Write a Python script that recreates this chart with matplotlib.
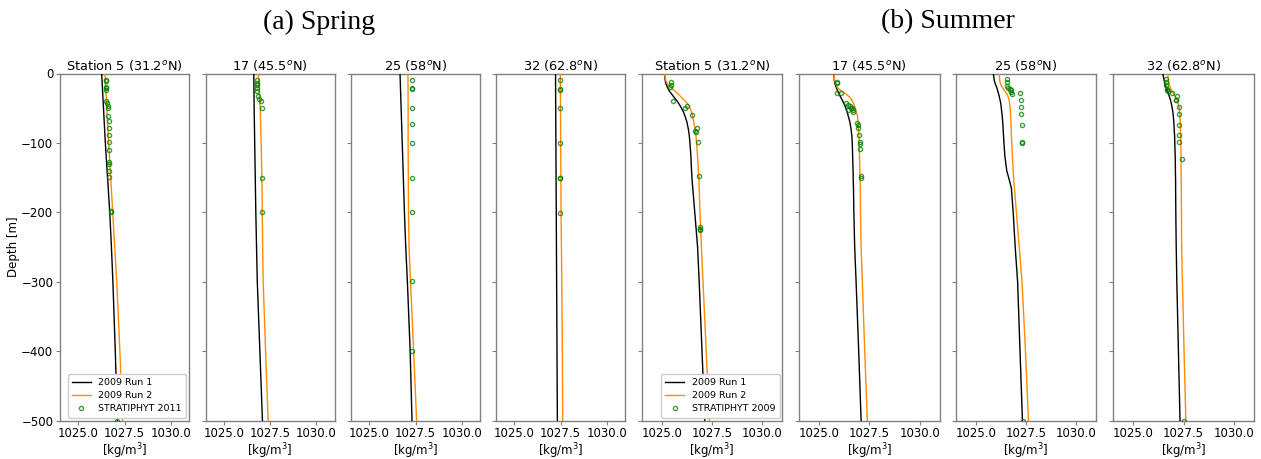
import matplotlib
matplotlib.use("Agg")
import matplotlib.pyplot as plt

# ---------------- labels ----------------
station_titles = ["Station 5 (31.2$^o$N)", "17 (45.5$^o$N)", "25 (58$^o$N)", "32 (62.8$^o$N)"]
season_titles = ["(a) Spring", "(b) Summer"]
run_labels = ["2009 Run 1", "2009 Run 2"]
obs_labels = ["STRATIPHYT 2011", "STRATIPHYT 2009"]
x_ticks = [1025.0, 1027.5, 1030.0]
y_ticks = [0, -100, -200, -300, -400, -500]

# ---------------- spring model profiles (density, kg/m3) ----------------
spring_depth = [0, -50, -100, -150, -200, -250, -300, -400, -500]
spring_run1 = [
    [1026.26, 1026.36, 1026.46, 1026.58, 1026.70, 1026.79, 1026.87, 1027.00, 1027.11],
    [1026.62, 1026.64, 1026.67, 1026.70, 1026.73, 1026.77, 1026.81, 1026.95, 1027.09],
    [1026.66, 1026.72, 1026.78, 1026.84, 1026.90, 1026.97, 1027.06, 1027.21, 1027.31],
    [1027.23, 1027.24, 1027.25, 1027.26, 1027.27, 1027.28, 1027.29, 1027.31, 1027.33],
]
spring_run2 = [
    [1026.44, 1026.54, 1026.64, 1026.75, 1026.86, 1026.97, 1027.08, 1027.25, 1027.40],
    [1026.87, 1026.97, 1027.02, 1027.06, 1027.08, 1027.10, 1027.13, 1027.26, 1027.40],
    [1027.09, 1027.10, 1027.10, 1027.11, 1027.12, 1027.15, 1027.23, 1027.40, 1027.56],
    [1027.49, 1027.50, 1027.51, 1027.52, 1027.53, 1027.55, 1027.57, 1027.60, 1027.62],
]

# ---------------- spring observations ----------------
spring_obs_depth = [
    [-9, -11, -19, -21, -24, -39, -43, -47, -49, -61, -69, -79, -89, -99, -110, -128, -130, -140, -149, -198, -200, -500],
    [-9, -13, -17, -21, -25, -33, -37, -39, -50, -150, -200],
    [-10, -21, -22, -50, -73, -100, -151, -200, -299, -400],
    [-10, -23, -24, -49, -100, -150, -151, -201],
]
spring_obs_rho = [
    [1026.50, 1026.50, 1026.50, 1026.50, 1026.49, 1026.50, 1026.55, 1026.62, 1026.62, 1026.62, 1026.64,
     1026.64, 1026.64, 1026.64, 1026.64, 1026.67, 1026.67, 1026.67, 1026.66, 1026.75, 1026.76, 1027.08],
    [1026.77, 1026.77, 1026.77, 1026.80, 1026.80, 1026.86, 1026.89, 1027.02, 1027.06, 1027.09, 1027.09],
    [1027.29, 1027.29, 1027.29, 1027.29, 1027.29, 1027.29, 1027.29, 1027.29, 1027.31, 1027.31],
    [1027.49, 1027.49, 1027.49, 1027.49, 1027.49, 1027.49, 1027.49, 1027.49],
]

# ---------------- summer model profiles ----------------
summer_depth = [0, -10, -15, -20, -25, -30, -35, -40, -45, -50, -55, -60, -70, -80, -90, -100,
                -120, -140, -155, -165, -200, -250, -300, -400, -500]
summer_run1 = [
    [1025.13, 1025.17, 1025.21, 1025.28, 1025.37, 1025.50, 1025.63, 1025.77, 1025.88, 1025.98, 1026.07,
     1026.14, 1026.25, 1026.32, 1026.37, 1026.40, 1026.45, 1026.48, 1026.51, 1026.54, 1026.64, 1026.78,
     1026.86, 1027.00, 1027.14],
    [1025.74, 1025.76, 1025.79, 1025.85, 1025.92, 1026.00, 1026.09, 1026.18, 1026.26, 1026.33, 1026.39,
     1026.44, 1026.53, 1026.59, 1026.63, 1026.65, 1026.67, 1026.69, 1026.70, 1026.71, 1026.73, 1026.77,
     1026.84, 1026.97, 1027.09],
    [1025.87, 1025.92, 1025.97, 1026.04, 1026.09, 1026.14, 1026.18, 1026.22, 1026.25, 1026.27, 1026.29,
     1026.31, 1026.34, 1026.36, 1026.38, 1026.40, 1026.45, 1026.54, 1026.68, 1026.77, 1026.86, 1026.96,
     1027.08, 1027.20, 1027.32],
    [1026.46, 1026.53, 1026.57, 1026.63, 1026.69, 1026.75, 1026.81, 1026.86, 1026.90, 1026.93, 1026.96,
     1026.98, 1027.01, 1027.03, 1027.05, 1027.06, 1027.08, 1027.09, 1027.10, 1027.10, 1027.11, 1027.13,
     1027.16, 1027.24, 1027.32],
]
summer_run2 = [
    [1025.13, 1025.20, 1025.28, 1025.45, 1025.64, 1025.83, 1026.00, 1026.18, 1026.31, 1026.41, 1026.47,
     1026.52, 1026.59, 1026.65, 1026.70, 1026.73, 1026.78, 1026.82, 1026.85, 1026.86, 1026.90, 1026.97,
     1027.05, 1027.21, 1027.37],
    [1025.74, 1025.78, 1025.82, 1025.90, 1026.10, 1026.36, 1026.55, 1026.66, 1026.74, 1026.80, 1026.85,
     1026.90, 1026.94, 1026.96, 1026.98, 1026.99, 1027.01, 1027.03, 1027.04, 1027.05, 1027.06, 1027.09,
     1027.15, 1027.27, 1027.40],
    [1026.17, 1026.19, 1026.23, 1026.32, 1026.44, 1026.56, 1026.63, 1026.67, 1026.69, 1026.71, 1026.72,
     1026.73, 1026.75, 1026.76, 1026.77, 1026.79, 1026.82, 1026.86, 1026.89, 1026.92, 1027.02, 1027.16,
     1027.30, 1027.47, 1027.62],
    [1026.71, 1026.74, 1026.78, 1026.84, 1026.91, 1027.01, 1027.12, 1027.19, 1027.25, 1027.28, 1027.30,
     1027.32, 1027.33, 1027.34, 1027.35, 1027.36, 1027.37, 1027.37, 1027.38, 1027.38, 1027.39, 1027.40,
     1027.44, 1027.52, 1027.61],
]

# ---------------- summer observations ----------------
summer_obs_depth = [
    [-12, -16.5, -19.5, -40, -47, -50, -60, -79, -83, -85, -99, -148, -221, -224, -226],
    [-12, -14, -28, -28, -42, -45, -47, -50, -52, -55, -52, -50, -72, -74, -78, -89, -98, -101, -109, -147, -150],
    [-8, -12, -18, -21, -22, -24, -26, -29, -28, -38.5, -48, -58, -74, -99, -100, -500],
    [-8, -12, -17, -22, -25, -24, -28, -33, -37.5, -38, -48, -58, -74, -89, -99, -123, -500],
]
summer_obs_rho = [
    [1025.44, 1025.44, 1025.43, 1025.58, 1026.24, 1026.17, 1026.49, 1026.74, 1026.66, 1026.70, 1026.82,
     1026.87, 1026.90, 1026.91, 1026.90],
    [1025.88, 1025.88, 1025.91, 1026.08, 1026.34, 1026.46, 1026.54, 1026.62, 1026.68, 1026.70, 1026.46,
     1026.58, 1026.87, 1026.96, 1026.93, 1027.00, 1027.04, 1027.04, 1027.04, 1027.07, 1027.07],
    [1026.57, 1026.57, 1026.54, 1026.62, 1026.71, 1026.74, 1026.77, 1026.80, 1027.20, 1027.24, 1027.27,
     1027.27, 1027.30, 1027.30, 1027.30, 1027.34],
    [1026.63, 1026.63, 1026.63, 1026.68, 1026.72, 1026.65, 1026.92, 1027.16, 1027.12, 1027.14, 1027.26,
     1027.27, 1027.29, 1027.29, 1027.29, 1027.44, 1027.51],
]

# ---------------- figure ----------------
W, H = 1261, 459
fig = plt.figure(figsize=(W / 100, H / 100), dpi=100)

spine_col = "#808080"
tick_fs = 8.5
axes_top_px, axes_bot_px = 73.5, 420.5
spring_left_px = [60, 205.5, 351, 496]
summer_left_px = [641.7, 799, 955.7, 1113.3]
spring_width_px = 129
summer_width_px = 140.7


def make_axes(left_px, width_px):
    return fig.add_axes([left_px / W, 1 - axes_bot_px / H, width_px / W,
                         (axes_bot_px - axes_top_px) / H])


def draw_panel(ax, title, depth, run1, run2, obs_d, obs_r, show_y, legend_obs=None):
    ax.plot(run1, depth, color="black", lw=1.0, label=run_labels[0], zorder=3)
    ax.plot(run2, depth, color="darkorange", lw=1.0, label=run_labels[1], zorder=3)
    ax.plot(obs_r, obs_d, linestyle="none", marker="o", ms=3.0, mew=1.0,
            mfc="none", mec="green", alpha=0.75, label=legend_obs or "", zorder=4)
    ax.set_xlim(1024, 1031)
    ax.set_ylim(-500, 0)
    ax.set_xticks(x_ticks)
    ax.set_xticklabels([f"{v:.1f}" for v in x_ticks])
    ax.set_yticks(y_ticks)
    if show_y:
        ax.set_yticklabels([str(v).replace("-", "\u2212") for v in y_ticks])
        ax.set_ylabel("Depth [m]", fontsize=tick_fs, labelpad=1)
    else:
        ax.set_yticklabels([])
    ax.set_xlabel("[kg/m$^3$]", fontsize=tick_fs, labelpad=1.2)
    ax.set_title(title, fontsize=9.3, pad=2.5)
    ax.tick_params(labelsize=tick_fs, length=2.8, width=0.8, pad=2.0, color=spine_col)
    for s in ax.spines.values():
        s.set_color(spine_col)
        s.set_linewidth(1.0)
    if legend_obs:
        ax.legend(loc="lower right", fontsize=6.8, handlelength=2.0, borderpad=0.45,
                  labelspacing=0.45, borderaxespad=0.3, framealpha=1.0,
                  edgecolor="#cccccc")


for i in range(4):
    ax = make_axes(spring_left_px[i], spring_width_px)
    draw_panel(ax, station_titles[i], spring_depth, spring_run1[i], spring_run2[i],
               spring_obs_depth[i], spring_obs_rho[i], show_y=(i == 0),
               legend_obs=obs_labels[0] if i == 0 else None)

for i in range(4):
    ax = make_axes(summer_left_px[i], summer_width_px)
    draw_panel(ax, station_titles[i], summer_depth, summer_run1[i], summer_run2[i],
               summer_obs_depth[i], summer_obs_rho[i], show_y=False,
               legend_obs=obs_labels[1] if i == 0 else None)

fig.text(319 / W, 1 - 22 / H, season_titles[0], ha="center", va="center",
         fontsize=20, family="Liberation Serif")
fig.text(948 / W, 1 - 22 / H, season_titles[1], ha="center", va="center",
         fontsize=20, family="Liberation Serif")

fig.savefig("out.png", dpi=100)
